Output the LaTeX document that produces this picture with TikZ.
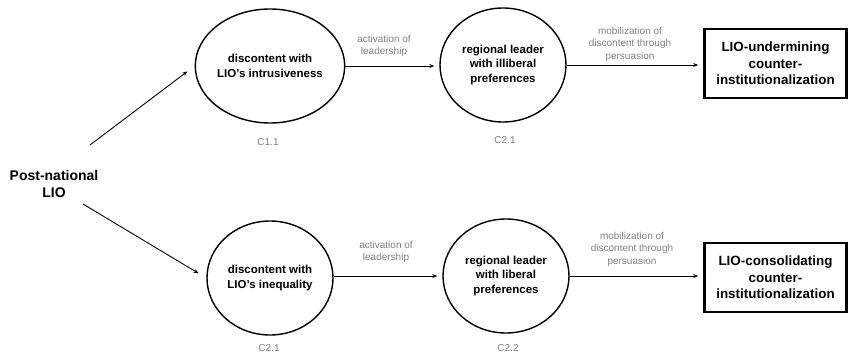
\documentclass[tikz,border=0pt]{standalone}
\usepackage{fontspec}
\setmainfont{Liberation Sans}
\usetikzlibrary{shapes.geometric,arrows.meta}
\definecolor{lbl}{gray}{0.5}
\tikzset{
  circ/.style={ellipse, draw, line width=1.4pt, minimum width=126pt, minimum height=114pt, inner sep=0pt, align=center, font=\bfseries\fontsize{11.5}{14.5}\selectfont},
  outbox/.style={rectangle, draw, line width=2.6pt, minimum width=142pt, minimum height=69pt, inner sep=0pt, align=center, font=\bfseries\fontsize{13.4}{16.5}\selectfont},
  glabel/.style={text=lbl, align=center, font=\fontsize{10}{12.5}\selectfont},
  arr/.style={line width=0.9pt, -{Stealth[length=5pt,width=4pt]}},
}
\begin{document}
\begin{tikzpicture}[x=1pt,y=-1pt]
\useasboundingbox (0,0) rectangle (849,356);
% nodes
\node[align=center, font=\bfseries\fontsize{14}{17}\selectfont] (post) at (54,183.5) {Post-national\\LIO};
\node[circ] (c1) at (270,66) {discontent with\\LIO's intrusiveness};
\node[circ] (c2) at (503,65) {regional leader\\with illiberal\\preferences};
\node[outbox] (b1) at (775.5,63.5) {LIO-undermining\\counter-\\institutionalization};
\node[circ] (c3) at (270,278) {discontent with\\LIO's inequality};
\node[circ] (c4) at (506,276) {regional leader\\with liberal\\preferences};
\node[outbox] (b2) at (775.5,277.5) {LIO-consolidating\\counter-\\institutionalization};
% labels
\node[glabel] (l1) at (384,46) {activation of\\leadership};
\node[glabel] (l2) at (630,44) {mobilization of\\discontent through\\persuasion};
\node[glabel] (l3) at (386,252) {activation of\\leadership};
\node[glabel] (l4) at (632,249) {mobilization of\\discontent through\\persuasion};
\node[glabel] (k1) at (268,142) {C1.1};
\node[glabel] (k2) at (505,140) {C2.1};
\node[glabel] (k3) at (269,348) {C2.1};
\node[glabel] (k4) at (508,348) {C2.2};
% connectors
\coordinate (s1) at (90,145);
\coordinate (s2) at (83,204);
\draw[arr, shorten >=9pt] (s1) -- (c1.west);
\draw[arr, shorten >=9pt] (s2) -- (c3.west);
\draw[arr, shorten >=5pt] (c1.east) -- (c1.east -| c2.west);
\draw[arr, shorten >=5pt] (c2.east) -- (c2.east -| b1.west);
\draw[arr, shorten >=5pt] (c3.east |- c4.west) -- (c4.west);
\draw[arr, shorten >=5pt] (c4.east) -- (c4.east -| b2.west);
\end{tikzpicture}
\end{document}
